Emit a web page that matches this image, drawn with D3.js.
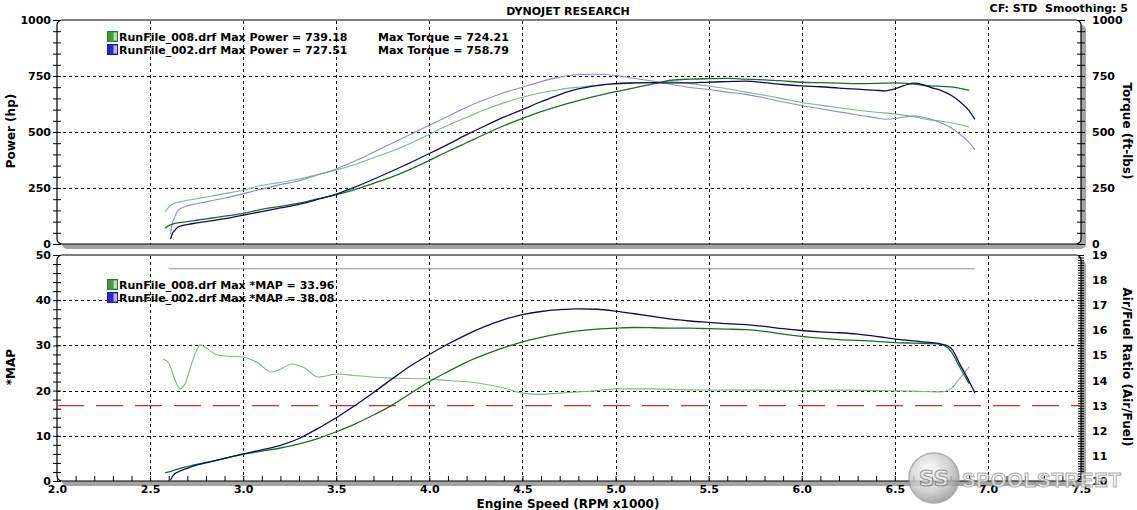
<!DOCTYPE html>
<html><head><meta charset="utf-8">
<script src="https://cdn.jsdelivr.net/npm/d3@7/dist/d3.min.js"></script>
<style>
html,body{margin:0;padding:0;background:#fff;}
svg{display:block;font-family:"DejaVu Sans",Verdana,sans-serif;font-weight:bold;}
.pre{white-space:pre;}
</style></head>
<body><svg id="c" width="1137" height="510"></svg>
<script>
// ---------- DATA ----------
const rpm8 = [2.58,2.6,2.63,2.66,2.7,2.75,2.8,2.85,2.9,3.0,3.1,3.2,3.3,3.4,3.5,3.6,3.7,3.8,3.9,4.0,4.1,4.2,4.3,4.4,4.5,4.6,4.7,4.8,4.9,5.0,5.1,5.2,5.3,5.4,5.5,5.6,5.7,5.8,5.9,6.0,6.1,6.2,6.3,6.4,6.5,6.6,6.7,6.75,6.8,6.85,6.9];
const power8 = [70,82,91,95,100,106,112,118,124,137,155,168,182,201,220,243,271,300,334,373,414,452,491,528,561,591,617,640,661,680,697,715,731,736,738,739,736,733,728,722,720,718,716,717,719,714,705,704,701,695,686];
const torque8 = [142,165,182,188,195,202,210,217,225,240,262,275,290,310,330,355,385,415,450,490,530,565,600,630,655,675,690,700,708,714,718,722,724,716,705,693,678,664,648,632,620,608,597,588,581,568,553,548,541,532,522];
const map8 = [1.8,2.0,2.4,2.8,3.2,3.7,4.1,4.5,5.0,5.9,6.6,7.3,8.2,9.4,10.9,12.6,14.6,16.8,19.4,22.0,24.2,26.3,28.0,29.5,30.8,31.8,32.6,33.2,33.6,33.8,33.96,33.9,33.8,33.8,33.7,33.6,33.5,33.1,32.5,32.0,31.6,31.3,31.1,30.9,30.6,30.5,30.4,30.2,28.8,25.1,21.5];

const rpm2 = [2.61,2.62,2.63,2.65,2.7,2.75,2.8,2.9,3.0,3.1,3.2,3.3,3.4,3.5,3.6,3.7,3.8,3.9,4.0,4.1,4.2,4.3,4.4,4.5,4.6,4.7,4.8,4.9,5.0,5.1,5.2,5.3,5.4,5.5,5.6,5.7,5.8,5.9,6.0,6.1,6.2,6.3,6.4,6.45,6.5,6.55,6.6,6.65,6.7,6.75,6.8,6.85,6.9,6.93];
const power2 = [22,47,58,76,87,94,100,113,129,145,161,177,199,223,254,289,326,364,404,445,488,528,566,600,635,667,692,707,716,719,720,719,719,723,725,727,720,712,706,702,696,691,686,684,693,707,718,712,697,685,665,635,594,556];
const torque2 = [45,95,115,150,170,180,188,205,225,245,265,282,308,335,370,410,450,490,530,570,610,645,675,700,725,745,757,758,752,740,727,712,699,690,678,668,652,634,618,604,590,576,563,557,560,567,572,566,556,540,520,490,452,421];
const map2 = [0.2,1.0,1.5,2.0,2.8,3.5,4.0,5.0,6.0,6.9,7.9,9.4,11.6,14.0,16.7,19.6,22.6,25.5,28.0,30.3,32.4,34.2,35.7,36.8,37.5,37.9,38.08,38.0,37.6,37.0,36.4,35.8,35.4,35.1,34.8,34.6,34.2,33.7,33.3,33.0,32.8,32.5,32.0,31.7,31.4,31.2,31.0,30.8,30.6,30.3,29.5,25.8,22.0,19.5];

const afrRpm8 = [2.57,2.6,2.63,2.66,2.69,2.72,2.75,2.77,2.8,2.85,2.9,3.0,3.08,3.15,3.2,3.26,3.33,3.4,3.51,3.6,3.69,3.8,4.01,4.1,4.2,4.3,4.4,4.5,4.6,4.7,4.8,4.9,5.0,5.2,5.4,5.6,5.8,6.0,6.2,6.4,6.6,6.75,6.8,6.85,6.9];
const afr8 = [14.86,14.7,14.1,13.67,13.9,14.6,15.2,15.42,15.3,15.05,14.98,14.94,14.7,14.34,14.45,14.66,14.5,14.14,14.26,14.2,14.14,14.1,14.06,14.0,13.95,13.85,13.7,13.5,13.45,13.5,13.55,13.6,13.67,13.67,13.63,13.62,13.62,13.6,13.62,13.6,13.58,13.55,13.67,14.1,14.55];
const afrRpm2 = [2.6,6.93];
const afr2 = [18.45,18.45];
const afrTarget = 13;

const xTicks = [2.0,2.5,3.0,3.5,4.0,4.5,5.0,5.5,6.0,6.5,7.0,7.5];
const powerTicks = [0,250,500,750,1000];
const mapTicks = [0,10,20,30,40,50];
const afrTicks = [10,11,12,13,14,15,16,17,18,19];

const legendTop = [
  {name:"RunFile_008.drf", p:"739.18", t:"724.21", dark:"#2a7a2a", mid:"#3f9a3f", light:"#b8e0b8"},
  {name:"RunFile_002.drf", p:"727.51", t:"758.79", dark:"#1a1a9a", mid:"#2a2ad0", light:"#b8b8f0"}
];
const legendBottom = [
  {name:"RunFile_008.drf", m:"33.96", dark:"#2a7a2a", mid:"#3f9a3f", light:"#b8e0b8"},
  {name:"RunFile_002.drf", m:"38.08", dark:"#1a1a9a", mid:"#2a2ad0", light:"#b8b8f0"}
];

// ---------- SETUP ----------
const svg = d3.select("#c");
const X0 = 57, X1 = 1081;
const T0 = 20, T1 = 244, B0 = 255, B1 = 481;
const x = d3.scaleLinear([2,7.5],[X0,X1]);
const yP = d3.scaleLinear([0,1000],[T1,T0]);
const yM = d3.scaleLinear([0,50],[B1,B0]);
const yA = d3.scaleLinear([10,19],[B1,B0]);

const cDarkG = "#236b23", cLightG = "#86b486", cDarkB = "#0c0c5e", cLightB = "#8e8ec6";

// panels (shadow + frame)
[[T0,T1],[B0,B1]].forEach(([a,b])=>{
  svg.append("rect").attr("x",X0+5).attr("y",a+5).attr("width",X1-X0).attr("height",b-a)
    .attr("rx",5).attr("fill","#a4a4a4");
  svg.append("rect").attr("x",X0).attr("y",a).attr("width",X1-X0).attr("height",b-a)
    .attr("rx",5).attr("fill","#fff").attr("stroke","#000").attr("stroke-width",1.2);
});

// grid
const grid = svg.append("g").attr("stroke","#000").attr("stroke-width",1).attr("stroke-dasharray","3,3").attr("fill","none");
xTicks.filter(d=>d>2 && d<7.5).forEach(d=>{
  grid.append("line").attr("x1",Math.round(x(d))+0.5).attr("x2",Math.round(x(d))+0.5).attr("y1",T0+1).attr("y2",T1);
  grid.append("line").attr("x1",Math.round(x(d))+0.5).attr("x2",Math.round(x(d))+0.5).attr("y1",B0+1).attr("y2",B1);
});
powerTicks.filter(d=>d>0 && d<1000).forEach(d=>{
  grid.append("line").attr("x1",X0).attr("x2",X1).attr("y1",Math.round(yP(d))+0.5).attr("y2",Math.round(yP(d))+0.5);
});
mapTicks.filter(d=>d>0 && d<50).forEach(d=>{
  grid.append("line").attr("x1",X0).attr("x2",X1).attr("y1",Math.round(yM(d))+0.5).attr("y2",Math.round(yM(d))+0.5);
});

// ticks (crossing the axis lines) via d3 axes
function ticks(g, axisFn, scale, vals, size){
  g.call(axisFn(scale).tickValues(vals).tickSize(size).tickFormat(""));
  g.select(".domain").remove();
  g.selectAll("line").attr("stroke","#000");
}
const minorP = d3.range(0,1001,50);
const minorM = d3.range(0,51,2);
const minorA = d3.range(100,191,1).map(d=>d/10);
const minorX = d3.range(20,76,1).map(d=>d/10);
ticks(svg.append("g").attr("transform",`translate(${X0},0)`), d3.axisLeft, yP, minorP, 4);
ticks(svg.append("g").attr("transform",`translate(${X0},0)`), d3.axisRight, yP, minorP, 4);
ticks(svg.append("g").attr("transform",`translate(${X1},0)`), d3.axisLeft, yP, minorP, 4);
ticks(svg.append("g").attr("transform",`translate(${X1},0)`), d3.axisRight, yP, minorP, 4);
ticks(svg.append("g").attr("transform",`translate(${X0},0)`), d3.axisLeft, yM, minorM, 4);
ticks(svg.append("g").attr("transform",`translate(${X0},0)`), d3.axisRight, yM, minorM, 4);
ticks(svg.append("g").attr("transform",`translate(${X1},0)`), d3.axisLeft, yA, minorA, 3);
ticks(svg.append("g").attr("transform",`translate(${X1},0)`), d3.axisRight, yA, minorA, 3);
ticks(svg.append("g").attr("transform",`translate(0,${B1})`), d3.axisTop, x, minorX, 5);

// tick labels
function labels(g, axis){
  g.call(axis);
  g.select(".domain").remove();
  g.selectAll("line").remove();
  g.selectAll("text").attr("font-size",11).attr("font-weight","bold").attr("font-family","DejaVu Sans").attr("fill","#000");
}
const fInt = d3.format("d");
labels(svg.append("g").attr("transform",`translate(${X0},0)`), d3.axisLeft(yP).tickValues(powerTicks).tickFormat(fInt).tickSize(0).tickPadding(6));
labels(svg.append("g").attr("transform",`translate(${X1},0)`), d3.axisRight(yP).tickValues(powerTicks).tickFormat(fInt).tickSize(0).tickPadding(11));
labels(svg.append("g").attr("transform",`translate(${X0},0)`), d3.axisLeft(yM).tickValues(mapTicks).tickFormat(fInt).tickSize(0).tickPadding(6));
labels(svg.append("g").attr("transform",`translate(${X1},0)`), d3.axisRight(yA).tickValues(afrTicks).tickFormat(fInt).tickSize(0).tickPadding(11));
labels(svg.append("g").attr("transform",`translate(0,${B1})`), d3.axisBottom(x).tickValues(xTicks).tickFormat(d3.format(".1f")).tickSize(0).tickPadding(4));

// target AFR line
svg.append("line").attr("x1",X0).attr("x2",X1).attr("y1",yA(afrTarget)).attr("y2",yA(afrTarget))
  .attr("stroke","#c83030").attr("stroke-width",1.2).attr("stroke-dasharray","27,12");

// curves
function curve(xs, ys, ys_scale, color, w){
  const line = d3.line().x((d,i)=>x(xs[i])).y(d=>ys_scale(d)).curve(d3.curveMonotoneX);
  svg.append("path").attr("d",line(ys)).attr("fill","none").attr("stroke",color).attr("stroke-width",w)
    .attr("stroke-linejoin","round");
}
curve(rpm8, torque8, yP, cLightG, 1.1);
curve(rpm2, torque2, yP, cLightB, 1.1);
curve(rpm8, power8, yP, cDarkG, 1.3);
curve(rpm2, power2, yP, cDarkB, 1.3);
curve(afrRpm2, afr2, yA, cLightB, 1.1);
curve(afrRpm8, afr8, yA, cLightG, 1.1);
curve(rpm8, map8, yM, cDarkG, 1.3);
curve(rpm2, map2, yM, cDarkB, 1.3);

// legends
function icon(x0, y0, d){
  svg.append("rect").attr("x",x0).attr("y",y0).attr("width",10).attr("height",10).attr("fill",d.mid).attr("stroke",d.dark).attr("stroke-width",1);
  svg.append("rect").attr("x",x0+6).attr("y",y0+1).attr("width",3.5).attr("height",8).attr("fill",d.light);
}
legendTop.forEach((d,i)=>{
  const by = 41 + i*13;
  icon(107.5, by-9.5, d);
  svg.append("text").attr("x",119).attr("y",by).attr("font-size",11).text(`${d.name} Max Power = ${d.p}`);
  svg.append("text").attr("x",378).attr("y",by).attr("font-size",11).text(`Max Torque = ${d.t}`);
});
legendBottom.forEach((d,i)=>{
  const by = 289 + i*13;
  icon(107.5, by-9.5, d);
  svg.append("text").attr("x",119).attr("y",by).attr("font-size",11).text(`${d.name} Max *MAP = ${d.m}`);
});

// titles
svg.append("text").attr("x",568).attr("y",15).attr("text-anchor","middle").attr("font-size",11).text("DYNOJET RESEARCH");
svg.append("text").attr("class","pre").attr("xml:space","preserve").attr("x",1128).attr("y",12).attr("text-anchor","end").attr("font-size",11).text("CF: STD  Smoothing: 5");
svg.append("text").attr("x",568).attr("y",508).attr("text-anchor","middle").attr("font-size",12).text("Engine Speed (RPM x1000)");
svg.append("text").attr("transform","translate(15,131) rotate(-90)").attr("text-anchor","middle").attr("font-size",12).text("Power (hp)");
svg.append("text").attr("transform","translate(15,367) rotate(-90)").attr("text-anchor","middle").attr("font-size",12).text("*MAP");
svg.append("text").attr("transform","translate(1123,131) rotate(90)").attr("text-anchor","middle").attr("font-size",12).text("Torque (ft-lbs)");
svg.append("text").attr("transform","translate(1123,367) rotate(90)").attr("text-anchor","middle").attr("font-size",12).text("Air/Fuel Ratio (Air/Fuel)");

// watermark (logo overlay, as in the reference)
const defs = svg.append("defs");
const rg = defs.append("radialGradient").attr("id","metal").attr("cx","40%").attr("cy","35%").attr("r","70%");
rg.append("stop").attr("offset","0%").attr("stop-color","#ffffff");
rg.append("stop").attr("offset","60%").attr("stop-color","#c8c8c8");
rg.append("stop").attr("offset","100%").attr("stop-color","#8a8a8a");
const wm = svg.append("g").attr("opacity",0.8);
wm.append("circle").attr("cx",934).attr("cy",478).attr("r",25).attr("fill","url(#metal)").attr("stroke","#9a9a9a").attr("stroke-width",1.5);
wm.append("text").attr("x",934).attr("y",486).attr("text-anchor","middle").attr("font-size",22)
  .attr("fill","#e8e8e8").attr("stroke","#808080").attr("stroke-width",1).text("SS");
wm.append("text").attr("x",962).attr("y",487).attr("font-size",20).attr("font-family","Liberation Sans")
  .attr("fill","#f4f4f4").attr("stroke","#9c9c9c").attr("stroke-width",1).attr("letter-spacing",1).text("SPOOLSTREET");
</script></body></html>
